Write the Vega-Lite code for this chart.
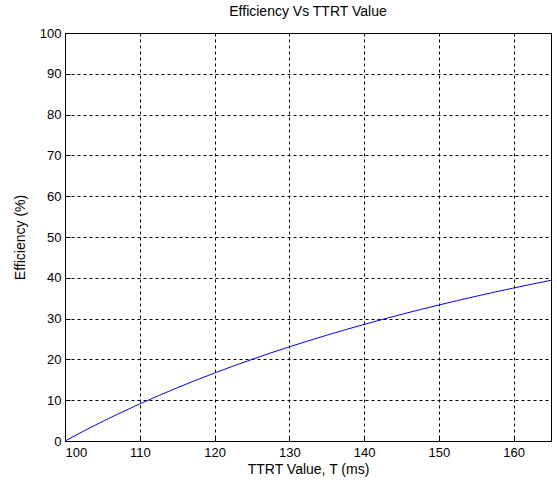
{
  "$schema": "https://vega.github.io/schema/vega-lite/v6.json",
  "width": 486,
  "height": 408,
  "autosize": "none",
  "padding": {"left": 65, "top": 33, "right": 6, "bottom": 45},
  "background": "white",
  "title": {"text": "Efficiency Vs TTRT Value", "font": "Liberation Sans", "fontSize": 14, "fontWeight": "normal", "color": "#000", "offset": 8},
  "config": {
    "view": {"stroke": "#000", "strokeWidth": 1},
    "axis": {
      "labelFont": "Liberation Sans", "labelFontSize": 13, "labelColor": "#000",
      "titleFont": "Liberation Sans", "titleFontSize": 14, "titleFontWeight": "normal", "titleColor": "#000",
      "grid": true, "gridColor": "#000", "gridDash": [3, 3], "gridOpacity": 1, "gridWidth": 1,
      "domain": false, "tickColor": "#000", "tickSize": -5
    }
  },
  "data": {"values": [
    {"T": 100, "E": 0},
    {"T": 102.5, "E": 2.44},
    {"T": 105, "E": 4.76},
    {"T": 107.5, "E": 6.98},
    {"T": 110, "E": 9.09},
    {"T": 112.5, "E": 11.11},
    {"T": 115, "E": 13.04},
    {"T": 117.5, "E": 14.89},
    {"T": 120, "E": 16.67},
    {"T": 122.5, "E": 18.37},
    {"T": 125, "E": 20.0},
    {"T": 127.5, "E": 21.57},
    {"T": 130, "E": 23.08},
    {"T": 132.5, "E": 24.53},
    {"T": 135, "E": 25.93},
    {"T": 137.5, "E": 27.27},
    {"T": 140, "E": 28.57},
    {"T": 142.5, "E": 29.82},
    {"T": 145, "E": 31.03},
    {"T": 147.5, "E": 32.2},
    {"T": 150, "E": 33.33},
    {"T": 152.5, "E": 34.43},
    {"T": 155, "E": 35.48},
    {"T": 157.5, "E": 36.51},
    {"T": 160, "E": 37.5},
    {"T": 162.5, "E": 38.46},
    {"T": 165, "E": 39.39}
  ]},
  "mark": {"type": "line", "color": "#0000ff", "strokeWidth": 1},
  "encoding": {
    "x": {"field": "T", "type": "quantitative", "scale": {"domain": [100, 165], "nice": false, "zero": false},
      "axis": {"values": [100, 110, 120, 130, 140, 150, 160], "title": "TTRT Value, T (ms)", "titlePadding": 3, "labelPadding": 10}},
    "y": {"field": "E", "type": "quantitative", "scale": {"domain": [0, 100], "nice": false},
      "axis": {"values": [0, 10, 20, 30, 40, 50, 60, 70, 80, 90, 100], "title": "Efficiency (%)", "titlePadding": 12, "labelPadding": 9}}
  }
}
